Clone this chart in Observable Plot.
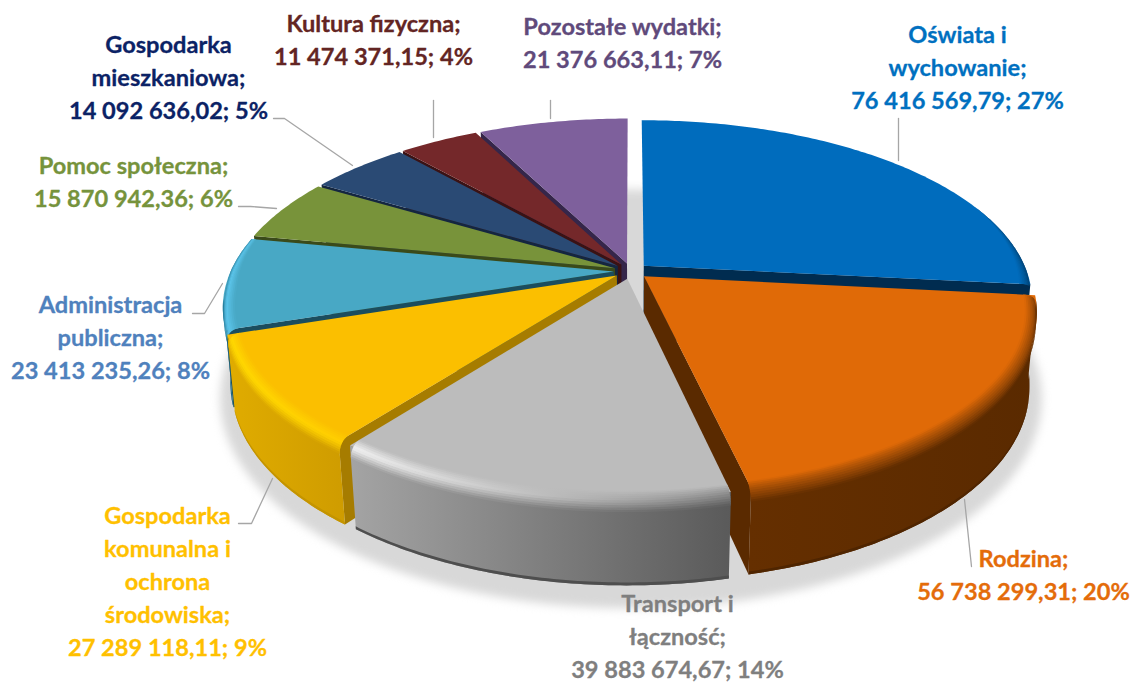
<!DOCTYPE html>
<html lang="pl">
<head>
<meta charset="utf-8">
<script src="https://cdn.jsdelivr.net/npm/d3@7"></script>
<script src="https://cdn.jsdelivr.net/npm/@observablehq/plot@0.6"></script>
<style>
html,body{margin:0;padding:0;background:#fff;}
svg{display:block;}
</style>
</head>
<body>
<div id="chart"></div>
<script>
// ---- data ----
const categories = ["Oświata i\nwychowanie;","Rodzina;","Transport i\nłączność;","Gospodarka\nkomunalna i\nochrona\nśrodowiska;","Administracja\npubliczna;","Pomoc społeczna;","Gospodarka\nmieszkaniowa;","Kultura fizyczna;","Pozostałe wydatki;"];
const values = [76416569.79,56738299.31,39883674.67,27289118.11,23413235.26,15870942.36,14092636.02,11474371.15,21376663.11];
const shares = [27,20,14,9,8,6,5,4,7];

// ---- styles (per slice, same order) ----
const labelColors = ["#0070c0","#e46c0a","#7f7f7f","#ffc000","#4f81bd","#76933c","#0b2265","#632523","#604a7b"];
const topColors   = ["#006cbd","#e06a07","#bcbcbc","#fbbf00","#48a8c5","#78933a","#2a4a74","#74282a","#7e609c"];
const hiLeft      = ["#0062ac","#a04c05","#f2f2f2","#ffd800","#5cc6ec","#78933a","#2a4a74","#74282a","#7e609c"];
const hiRight     = ["#00528f","#a04c05","#8a8a8a","#ffcf00","#5cc6ec","#78933a","#2a4a74","#74282a","#7e609c"];
const sideLeft    = ["#003a66","#652f00","#a4a4a4","#e0ac00","#1f7491","#3a4a1a","#142640","#3a1214","#35264a"];
const sideRight   = ["#002c50","#5a2a00","#5a5a5a","#cf9c00","#1f6a85","#3a4a1a","#142640","#3a1214","#35264a"];
const sideEdge    = ["#002c50","#4f2500","#4e4e4e","#c49400","#1b5a72","#3a4a1a","#142640","#3a1214","#35264a"];
const wallColors  = ["#002c50","#5a2a00","#666666","#a67c00","#1b4d5e","#3a4a1a","#142640","#3a1214","#35264a"];
const wallAtEnd   = [true,true,null,false,false,false,false,false,false];
const paintOrder  = [8,7,6,5,4,0,1,3,2];

// ---- label placement ----
const labelX = [957,1023,677,167,110,133,168,373,622];
const labelY = [65,572,634,579,335,179,75,37,40];
const leaders = [
  [[898,118],[898,160]],
  [[971,566],[964,499]],
  [[238,523],[251,523],[272,478]],
  [[192,313],[204,313],[222,283]],
  [[238,206],[250,206],[276,208]],
  [[273,118],[284,118],[352,165]],
  [[433,100],[433,137]],
  [[550,100],[550,118]]
];

// ---- perspective model of the 3-D pie ----
const W = 1132, H = 682;
const cx = 631, cy = 271, R = 383, Ry = 175, Hz = 75, k = 0.19, kz = 0.018;
const explode = 0.045, bevelR = 0.03, bevelZ = 0.15, N = 10;
const project = (u, v, z) => {
  const w = 1 - k * v + kz * z;
  return [cx + R * u / w, cy + (Ry * v + Hz * z) / w];
};
const fmt = v => {
  const [a, b] = v.toFixed(2).split(".");
  return a.replace(/\B(?=(\d{3})+$)/g, " ") + "," + b;
};

const arcs = d3.pie().sort(null).startAngle(0).endAngle(2 * Math.PI)(values);
const slices = arcs.map((a, i) => {
  const mid = (a.startAngle + a.endAngle) / 2;
  const ou = explode * Math.sin(mid), ov = -explode * Math.cos(mid);
  const pt = (t, r, z) => project(ou + r * Math.sin(t), ov - r * Math.cos(t), z);
  const n = Math.ceil((a.endAngle - a.startAngle) / (Math.PI / 240));
  const thetas = d3.range(n + 1).map(j => a.startAngle + (a.endAngle - a.startAngle) * j / n);
  return {i, a, pt, thetas, vOf: t => ov - Math.cos(t)};
});
const strip = (ts, f1, f2) => ts.map(t => {
  const [x1, y1] = f1(t), [x2, y2] = f2(t);
  return {x1, y1, x2, y2};
});
const area = (rows, fill, extra = {}) => Plot.area(rows, {x1: "x1", y1: "y1", x2: "x2", y2: "y2", fill, curve: "linear", ...extra});

const marks = [];
const grads = [];

// soft shadow under the whole pie
const disc = d3.range(0, 361, 2).map(t => t * Math.PI / 180);
const shadowR = t => 1.08 + 0.03 * Math.cos(t);
marks.push(area(strip(disc, () => project(0, 0.2, 1.1), t => project(shadowR(t) * Math.sin(t), -shadowR(t) * Math.cos(t), 1.25)), "#d8d8d8", {imageFilter: "blur(5px)"}));

paintOrder.forEach(idx => {
  const s = slices[idx], {a, pt, thetas, vOf} = s;
  // radial wall
  if (wallAtEnd[idx] !== null) {
    const t = wallAtEnd[idx] ? a.endAngle : a.startAngle;
    marks.push(area([0, 1].map(r => {
      const [x1, y1] = pt(t, r, 0), [x2, y2] = pt(t, r, 1);
      return {x1, y1, x2, y2};
    }), wallColors[idx]));
  }
  // top face
  marks.push(area(strip(thetas, () => pt(0, 0, 0), t => pt(t, 1, 0)), topColors[idx]));
  // outer side
  const front = thetas.filter(t => vOf(t) >= 0.15);
  if (front.length > 1) {
    const id = `side-${idx}`;
    grads.push({id, c0: sideLeft[idx], c1: sideRight[idx]});
    marks.push(area(strip(front, t => pt(t, 1, 0), t => pt(t, 1, 1)), `url(#${id})`));
    marks.push(area(strip(front, t => pt(t, 1, 0.965), t => pt(t, 1, 1)), sideEdge[idx]));
  }
  // rounded bevel between top and side
  const clamp = x => Math.max(0, Math.min(1, x));
  const fade = t => clamp((vOf(t) + 0.4) / 0.5);
  const fadeZ = t => clamp(vOf(t) / 0.3);
  const rim = thetas.filter(t => fade(t) > 0);
  if (rim.length > 1 && topColors[idx] !== hiLeft[idx]) {
    const prof = (t, q) => {
      const r = 1 - bevelR * fade(t) * (1 - Math.sin(q * Math.PI / 2));
      const z = bevelZ * fadeZ(t) * (1 - Math.cos(q * Math.PI / 2));
      return pt(t, r, z);
    };
    for (let b = 0; b < N; b++) {
      const q = (b + 0.5) / N;
      const mix = (hi, side) => q < 0.5 ? d3.interpolateRgb(topColors[idx], hi)(q * 2) : d3.interpolateRgb(hi, side)((q - 0.5) * 2);
      const id = `bevel-${idx}-${b}`;
      grads.push({id, c0: mix(hiLeft[idx], sideLeft[idx]), c1: mix(hiRight[idx], sideRight[idx])});
      marks.push(area(strip(rim, t => prof(t, b / N), t => prof(t, Math.min(1, (b + 1.3) / N))), `url(#${id})`));
    }
  }
});

// leader lines
marks.push(Plot.line(leaders.flatMap((l, id) => l.map(([x, y]) => ({x, y, id}))), {
  x: "x", y: "y", z: "id", stroke: "#a6a6a6", strokeWidth: 1.3, curve: "linear"
}));

// labels
const labelRows = categories.map((c, i) => ({
  x: labelX[i], y: labelY[i], color: labelColors[i],
  text: `${c}\n${fmt(values[i])}; ${shares[i]}%`
}));
marks.push(Plot.text(labelRows, {
  x: "x", y: "y", text: "text", fill: "color", stroke: "color", strokeWidth: 0.3,
  fontFamily: "Lato", fontWeight: 700, fontSize: 23.6, lineHeight: 1.4,
  textAnchor: "middle", lineAnchor: "middle"
}));

const chart = Plot.plot({
  width: W, height: H,
  margin: 0,
  style: {background: "#fff"},
  x: {domain: [0, W], range: [0, W], axis: null},
  y: {domain: [0, H], range: [0, H], axis: null},
  color: {type: "identity"},
  marks
});
const defs = d3.select(chart).insert("defs", ":first-child");
grads.forEach(g => {
  const lg = defs.append("linearGradient").attr("id", g.id).attr("x1", 0).attr("x2", 1).attr("y1", 0).attr("y2", 0);
  lg.append("stop").attr("offset", 0).attr("stop-color", g.c0);
  lg.append("stop").attr("offset", 1).attr("stop-color", g.c1);
});
document.getElementById("chart").append(chart);
</script>
</body>
</html>
